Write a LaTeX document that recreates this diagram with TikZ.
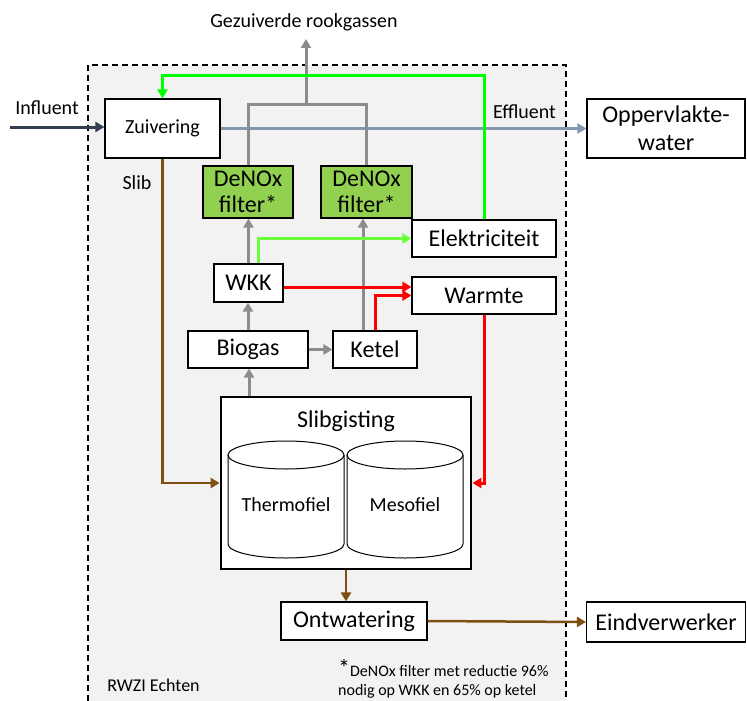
\documentclass[tikz,border=0pt]{standalone}
\usepackage{fontspec}
\setmainfont{Carlito}
\usetikzlibrary{arrows.meta,calc}

\definecolor{plantbg}{RGB}{242,242,242}
\definecolor{filtergreen}{RGB}{146,208,80}
\definecolor{gasgray}{RGB}{140,140,140}
\definecolor{powergreen}{RGB}{0,255,0}
\definecolor{limegreen}{RGB}{110,255,60}
\definecolor{heatred}{RGB}{255,0,0}
\definecolor{sludge}{RGB}{127,78,18}
\definecolor{effblue}{RGB}{132,151,176}
\definecolor{inflow}{RGB}{51,63,80}

\tikzset{
  box/.style={draw=black, fill=white, line width=1.1pt, inner sep=0pt, align=center,
              font=\fontsize{24}{28}\selectfont},
  smallbox/.style={box, font=\fontsize{20}{24}\selectfont},
  filterbox/.style={box, fill=filtergreen, font=\fontsize{24}{26}\selectfont},
  lbl/.style={inner sep=0pt, font=\fontsize{20}{24}\selectfont},
  flow/.style={line width=3pt, -{Triangle[length=9pt,width=10pt]}},
  gasline/.style={flow, draw=gasgray},
  heatline/.style={flow, draw=heatred},
  sludgeline/.style={flow, draw=sludge, line width=2.5pt},
  tank/.style={draw=black, fill=white, line width=1pt},
}

\begin{document}
\begin{tikzpicture}[x=1pt,y=-1pt]
\useasboundingbox (0,0) rectangle (747,701);

% plant boundary
\fill[plantbg] (88,65) rectangle (566,701);
\draw[line width=1.5pt, dash pattern=on 6pt off 4pt] (88,701) -- (88,65) -- (566,65) -- (566,701);

% process units
\node[smallbox, minimum width=115pt, minimum height=59pt] (zuiv) at (162.5,128.5) {Zuivering};
\node[box, minimum width=158pt, minimum height=59pt] (opp) at (666,128.5) {Oppervlakte-\\water};
\node[filterbox, minimum width=90pt, minimum height=52pt] (d1) at (248,192) {DeNOx\\filter*};
\node[filterbox, minimum width=91pt, minimum height=52pt] (d2) at (366.5,192) {DeNOx\\filter*};
\node[box, minimum width=144pt, minimum height=37pt] (elek) at (484,238.5) {Elektriciteit};
\node[box, minimum width=144pt, minimum height=37pt] (warm) at (484,295.5) {Warmte};
\node[box, minimum width=69pt, minimum height=38pt] (wkk) at (248.5,283) {WKK};
\node[box, minimum width=120pt, minimum height=37pt] (bio) at (248,349.5) {Biogas};
\node[box, minimum width=84pt, minimum height=37pt] (ketel) at (375,349.5) {Ketel};
\node[draw=black, fill=white, line width=2.8pt, minimum width=250pt, minimum height=172pt] (slib) at (346,483) {};
\node[box, minimum width=146pt, minimum height=38pt] (ontw) at (354,621) {Ontwatering};
\node[box, minimum width=159pt, minimum height=40pt] (eind) at (666,622) {Eindverwerker};

% digester tanks
\node[inner sep=0pt, font=\fontsize{24}{28}\selectfont] (sliblbl) at (346,421) {Slibgisting};
\draw[tank] (228,455) -- (228,544) arc (180:360:58pt and 14pt) -- (344,455);
\draw[tank] (286,455) ellipse [x radius=58pt, y radius=14pt];
\draw[tank] (347,455) -- (347,544) arc (180:360:58pt and 14pt) -- (463,455);
\draw[tank] (405,455) ellipse [x radius=58pt, y radius=14pt];
\node[lbl] (thermo) at (286,505) {Thermofiel};
\node[lbl] (meso) at (405,505) {Mesofiel};

% labels
\node[lbl] (rook) at (304,22) {Gezuiverde rookgassen};
\node[lbl] (influent) at (47,108) {Influent};
\node[lbl] (effluent) at (524.5,112) {Effluent};
\node[lbl] (sliblabel) at (137,183) {Slib};
\node[inner sep=0pt, font=\fontsize{18}{22}\selectfont] (rwzi) at (153.5,685) {RWZI Echten};
\node[inner sep=0pt, anchor=west, align=left, font=\fontsize{16}{19.5}\selectfont] (note) at (338,679)
  {{\fontsize{24}{19.5}\selectfont *}DeNOx filter met reductie 96\%\\nodig op WKK en 65\% op ketel};

% water line
\coordinate (inl) at (10,127);
\draw[flow, draw=inflow] (inl) -- (inl -| zuiv.west);
\draw[flow, draw=effblue] (zuiv.east) -- (opp.west);

% flue gas
\coordinate (exh) at (306,104);
\coordinate (exhtop) at (306,39);
\draw[line width=3pt, draw=gasgray] (d1.north) |- (exh) -| (d2.north);
\draw[gasline] (exh) -- (exhtop);
\draw[gasline] (bio.north) -- (bio.north |- wkk.south);
\draw[gasline] (wkk.north) -- (wkk.north |- d1.south);
\coordinate (kg) at ($(ketel.north)+(-12,0)$);
\draw[gasline] (kg) -- (kg |- d2.south);
\draw[gasline] (bio.east) -- (ketel.west);
\coordinate (sg) at ($(slib.north)+(-97,0)$);
\draw[gasline] (sg) -- (sg |- bio.south);

% electricity
\coordinate (gtop) at (484,76);
\draw[flow, draw=powergreen] (elek.north) -- (gtop) -| (zuiv.north);
\coordinate (wg) at ($(wkk.north)+(10,0)$);
\draw[flow, draw=limegreen] (wg) |- (elek.west);

% heat
\coordinate (wr) at ($(wkk.east)+(0,4)$);
\draw[heatline] (wr) -- (wr -| warm.west);
\draw[heatline] (ketel.north) |- (warm.west);
\draw[heatline] (warm.south) |- (slib.east);

% sludge
\draw[sludgeline] (zuiv.south) |- (slib.west);
\draw[sludgeline] (slib.south) -- (slib.south |- ontw.north);
\draw[sludgeline] (ontw.east) -- (eind.west);
\end{tikzpicture}
\end{document}
